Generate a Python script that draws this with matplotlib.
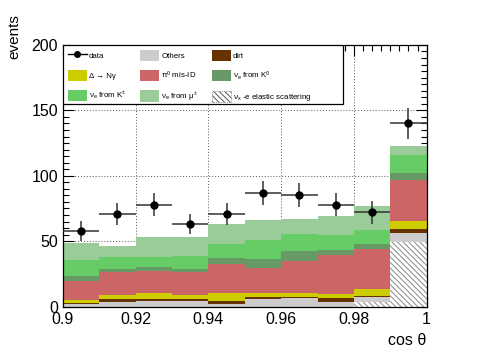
import numpy as np
import matplotlib
matplotlib.use("Agg")
import matplotlib.pyplot as plt
from matplotlib.patches import Patch, Rectangle
from matplotlib.lines import Line2D
from matplotlib.ticker import MultipleLocator

plt.rcParams["font.family"] = ["Liberation Sans", "DejaVu Sans"]
plt.rcParams["mathtext.fontset"] = "custom"
plt.rcParams["mathtext.rm"] = "Liberation Sans"
plt.rcParams["mathtext.it"] = "Liberation Sans:italic"
plt.rcParams["hatch.color"] = "#888888"
plt.rcParams["hatch.linewidth"] = 0.7

# bin edges in cos(theta)
bin_edges = [0.90, 0.91, 0.92, 0.93, 0.94, 0.95, 0.96, 0.97, 0.98, 0.99, 1.00]

# observed events and their errors
data = [58, 71, 78, 63, 71, 87, 85, 78, 72, 140]
data_err = [7.6, 8.4, 8.8, 7.9, 8.4, 9.3, 9.2, 8.8, 8.5, 11.8]

# stacked predictions, bottom to top
elastic = [0, 0, 0, 0, 0, 0, 0, 0, 3.5, 49.5]
others = [2.3, 3.3, 4.3, 4.3, 2.0, 5.8, 6.9, 3.3, 4.1, 6.9]
dirt = [0.7, 2.5, 1.5, 1.3, 2.3, 1.8, 0.7, 3.1, 0.8, 2.8]
delta = [2.1, 3.1, 4.4, 3.3, 5.9, 2.8, 2.8, 3.0, 4.9, 6.1]
pi0 = [14.7, 17.8, 17.2, 17.8, 22.1, 19.1, 24.4, 30.0, 30.5, 31.8]
nue_k0 = [3.6, 2.0, 2.6, 1.8, 4.6, 6.7, 7.5, 4.1, 3.8, 5.1]
nue_kpm = [12.2, 8.9, 8.1, 10.1, 10.9, 14.6, 13.1, 11.2, 10.9, 13.7]
nue_mu = [13.2, 8.7, 15.3, 14.8, 15.4, 15.0, 11.2, 14.7, 18.3, 6.6]

edges = np.array(bin_edges)
left = edges[:-1]
width = np.diff(edges)
centers = left + width / 2

HATCH = "\\\\\\\\\\\\"

fig = plt.figure(figsize=(4.91, 3.54), dpi=100)
ax = fig.add_axes([0.128, 0.134, 0.741, 0.739])

components = [
    (elastic, "white", HATCH),
    (others, "#cccccc", None),
    (dirt, "#663300", None),
    (delta, "#cccc00", None),
    (pi0, "#cc6666", None),
    (nue_k0, "#669966", None),
    (nue_kpm, "#66cc66", None),
    (nue_mu, "#99cc99", None),
]

bottom = np.zeros(len(left))
for vals, col, hatch in components:
    vals = np.array(vals, dtype=float)
    if hatch:
        ax.bar(left, vals, width=width, bottom=bottom, align="edge",
               color=col, hatch=hatch, edgecolor="#888888", linewidth=0,
               zorder=2)
    else:
        ax.bar(left, vals, width=width, bottom=bottom, align="edge",
               color=col, linewidth=0, zorder=2)
    bottom += vals

ax.errorbar(centers, data, xerr=width / 2, yerr=data_err, fmt="o",
            color="black", ecolor="#333333", elinewidth=1.1, markersize=5,
            capsize=0, zorder=5)

ax.set_xlim(0.9, 1.0)
ax.set_ylim(0, 200)
ax.xaxis.set_major_locator(MultipleLocator(0.02))
ax.xaxis.set_minor_locator(MultipleLocator(0.0025))
ax.yaxis.set_major_locator(MultipleLocator(50))
ax.yaxis.set_minor_locator(MultipleLocator(5))
ax.set_xticks([0.9, 0.92, 0.94, 0.96, 0.98, 1.0])
ax.set_xticklabels(["0.9", "0.92", "0.94", "0.96", "0.98", "1"])
ax.tick_params(which="both", direction="in", top=True, right=True,
               labelsize=11.5, width=0.8)
ax.tick_params(which="major", length=8)
ax.tick_params(which="minor", length=4)
ax.tick_params(axis="x", pad=4)
ax.grid(True, which="major", linestyle=(0, (1, 2)), color="#555555",
        linewidth=0.7, zorder=0)
ax.set_axisbelow(True)

ax.set_xlabel("cos θ", fontsize=11.5, loc="right")
ax.set_ylabel("events", fontsize=11, loc="top")
ax.yaxis.set_label_coords(-0.113, 1.117)

# legend box (ROOT style), drawn separately so it can be wider than its text
box = Rectangle((0.0, 0.775), 0.769, 0.225, transform=ax.transAxes,
                facecolor="white", edgecolor="black", linewidth=0.9,
                zorder=9)
ax.add_patch(box)

h_data = Line2D([], [], color="black", marker="o", markersize=4, lw=1)
h = {
    "data": h_data,
    "others": Patch(facecolor="#cccccc", edgecolor="none"),
    "dirt": Patch(facecolor="#663300", edgecolor="none"),
    "delta": Patch(facecolor="#cccc00", edgecolor="none"),
    "pi0": Patch(facecolor="#cc6666", edgecolor="none"),
    "k0": Patch(facecolor="#669966", edgecolor="none"),
    "kpm": Patch(facecolor="#66cc66", edgecolor="none"),
    "mu": Patch(facecolor="#99cc99", edgecolor="none"),
    "el": Patch(facecolor="white", edgecolor="#555555", hatch=HATCH,
                linewidth=0.5, linestyle=":"),
}
labels = {
    "data": "data",
    "others": "Others",
    "dirt": "dirt",
    "delta": "Δ → Nγ",
    "pi0": r"π$^\mathregular{0}$ mis-ID",
    "k0": r"ν$_\mathregular{e}$ from K$^\mathregular{0}$",
    "kpm": r"ν$_\mathregular{e}$ from K$^\mathregular{\pm}$",
    "mu": r"ν$_\mathregular{e}$ from μ$^\mathregular{\pm}$",
    "el": r"ν$_\mathregular{x}$ -e elastic scattering",
}
# matplotlib fills columns first, so reorder to get ROOT's row order
order = ["data", "delta", "kpm", "others", "pi0", "mu", "dirt", "k0", "el"]
leg = ax.legend([h[k] for k in order], [labels[k] for k in order], ncol=3,
                loc="upper left", bbox_to_anchor=(0.0, 1.0), borderaxespad=0,
                fontsize=5.7, frameon=False, handlelength=2.4,
                handleheight=1.8, labelspacing=1.1, columnspacing=1.7,
                handletextpad=0.3, borderpad=0.6)
leg.set_zorder(10)

for s in ax.spines.values():
    s.set_linewidth(0.9)

fig.savefig("out.png", dpi=100)
